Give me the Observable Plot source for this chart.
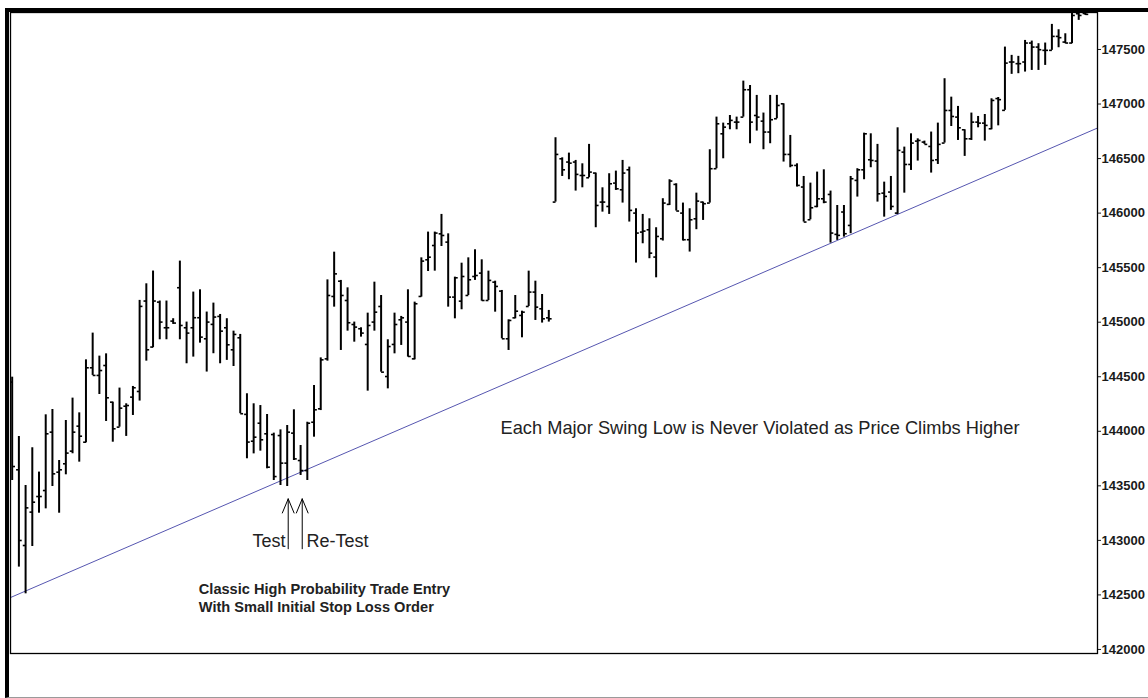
<!DOCTYPE html>
<html>
<head>
<meta charset="utf-8">
<script src="https://cdn.jsdelivr.net/npm/d3@7"></script>
<script src="https://cdn.jsdelivr.net/npm/@observablehq/plot@0.6"></script>
<style>
  html, body { margin: 0; padding: 0; background: #fff; }
  #wrap { position: absolute; left: 5px; top: 8px; border-left: 4px solid #000; border-top: 4px solid #000; border-bottom: 1px solid #9a9a9a; width: 1139px; height: 685px; }
  #wrap svg { display: block; }
</style>
</head>
<body>
<div id="wrap"></div>
<script>
// OHLC values, one entry per bar (bar index = position in the arrays)
const opens = [
  144451,143647,142953,143259,143402,143457,143992,143625,143702,143818,144047,143900,144582,144512,144603,144267,144038,144230,144313,
  144365,145194,144772,145184,144949,145010,145316,144949,144949,145041,144848,144980,145053,144949,144747,144857,144155,
  143909,144074,143977,143970,143961,143708,143983,143732,143640,144083,144206,144664,145236,
  145376,145199,144979,144940,144796,145001,145144,144502,144796,145022,145001,144664,145236,145572,145703,145810,145734,
  145230,145193,145245,145419,145450,145199,145367,145285,144848,145040,145062,145144,145276,145123,145040,
  146101,146498,146468,146468,146345,146324,146367,146101,146061,146275,146214,146397,146000,145826,145847,145597,145765,146080,146263,146000,145756,145948,
  146101,146092,146407,146727,146819,146834,146880,147131,146895,146843,146743,146865,147002,146538,146437,146239,145939,146061,146131,146171,145805,146010,145887,
  146300,146397,146489,146477,146183,146193,146000,146559,146446,146660,146651,146611,146489,146642,146941,146880,146764,146681,146834,146825,146773,147050,
  146942,147385,147370,147385,147559,147522,147492,147492,147620,147568,147559,147828,147830
];
const highs = [
  144496,143952,143503,143849,143626,144151,144200,143732,144099,144304,144169,144655,144900,144689,144710,144267,144396,144252,144411,
  145200,145352,145469,145194,145194,145032,145560,145001,145276,145297,145093,145175,145071,145032,144918,144888,144344,
  144252,144236,144154,143983,144013,144053,144197,143870,144083,144420,144673,145388,145642,
  145383,145315,145001,144949,145083,145367,145245,144839,145083,145053,145297,145184,145590,145826,145826,145988,145810,
  145413,145541,145590,145664,145572,145468,145376,145291,145022,145245,145101,145468,145376,145254,145108,
  146691,146507,146550,146483,146452,146630,146367,146232,146361,146385,146483,146422,146040,145988,145948,145866,146132,146306,146269,146092,146040,146183,
  146101,146581,146880,146825,146895,146880,147210,147170,147079,146917,147079,147079,147002,146712,146452,146336,146275,146376,146397,146202,146070,146070,146336,
  146407,146733,146727,146630,146284,146336,146782,146605,146727,146681,146660,146743,146825,147232,147063,146978,146764,146917,146886,146904,147048,147060,
  147522,147446,147437,147583,147577,147553,147559,147730,147681,147644,147900,147900,147900
];
const lows = [
  143549,142755,142510,142944,143249,143289,143494,143249,143601,143794,143717,143894,144512,144337,144090,143900,144038,143953,144145,
  144277,144643,144766,144839,144839,144980,144839,144619,144680,144808,144543,144711,144619,144650,144594,144161,143748,
  143793,143818,143656,143549,143503,143494,143732,143595,143549,143946,144190,144643,145138,
  144741,144918,144817,144863,144368,144918,144542,144389,144710,144787,144680,144655,145230,145465,145468,145694,145138,
  145031,145114,145245,145383,145193,145199,145092,144848,144741,145031,144857,145144,145016,144992,145001,
  146101,146336,146306,146202,146232,146324,145866,146009,145988,146208,146092,145918,145542,145719,145582,145407,145744,146070,146019,145744,145643,145848,
  145933,146092,146407,146498,146764,146764,146880,146636,146752,146581,146636,146865,146468,146416,146239,145918,145939,146049,146086,145725,145750,145780,145811,
  146147,146306,146416,146101,145963,146025,145988,146183,146391,146477,146630,146367,146446,146642,146794,146666,146520,146666,146782,146660,146764,146800,
  146942,147272,147278,147293,147308,147308,147354,147492,147516,147553,147553,147767,147812
];
const closes = [
  143677,142999,143298,143350,143402,143977,143610,143647,143800,143992,143955,144582,144512,144557,144307,144023,144212,144236,144399,
  145145,144747,145194,145001,144949,144992,144970,144900,145041,144863,145001,145047,144918,144793,144888,144161,143901,
  143946,143922,143671,143585,143708,143992,143747,143640,144074,144197,144655,145245,145443,
  145245,144995,144955,144900,144970,145092,144542,144777,144979,145040,144686,145169,145560,145596,145817,145795,145230,
  145407,145419,145389,145428,145199,145383,145328,144848,145016,145101,145092,145276,145138,145031,145031,
  146538,146397,146458,146355,146345,146376,146070,146101,146269,146223,146367,146025,145817,145835,145633,145786,146092,146294,146019,145756,145939,146110,
  146086,146407,146819,146788,146850,146834,147131,146834,146880,146743,146856,146987,146538,146437,146254,145918,146049,146131,146101,145817,145796,145811,146315,
  146397,146727,146483,146177,146153,146061,146575,146446,146642,146666,146630,146483,146630,146941,146886,146782,146681,146834,146825,146804,147033,147040,
  147375,147385,147370,147559,147522,147498,147492,147620,147608,147559,147812,147812,147822
];
const yTicks = [142000,142500,143000,143500,144000,144500,145000,145500,146000,146500,147000,147500];
const trendLine = [{i: -0.25, v: 142476}, {i: 161.8, v: 146780}];
const swingNote = [{i: 72.8, v: 144029, text: "Each Major Swing Low is Never Violated as Price Climbs Higher"}];
const testNote = [{i: 40.75, v: 142990, text: "Test"}];
const retestNote = [{i: 43.88, v: 142990, text: "Re-Test"}];
const entryNotes = [{i: 27.82, v: 142550, text: "Classic High Probability Trade Entry"}, {i: 27.82, v: 142388, text: "With Small Initial Stop Loss Order"}];
const arrows = [{i: 41.15, from: 142923, to: 143381}, {i: 43.24, from: 142923, to: 143381}];

const bars = opens.map((o, i) => ({i, open: o, high: highs[i], low: lows[i], close: closes[i]}));

const chart = Plot.plot({
  width: 1139,
  height: 685,
  marginLeft: 1,
  marginRight: 51,
  marginTop: 0,
  marginBottom: 44,
  style: {fontFamily: "'Liberation Sans', Arial, sans-serif", background: "#fff", overflow: "visible"},
  x: {type: "linear", domain: [-0.25, 161.8], axis: null},
  y: {type: "linear", domain: [141963, 147839], axis: null},
  marks: [
    Plot.line(trendLine, {x: "i", y: "v", stroke: "#5656b0", strokeWidth: 1}),
    Plot.ruleX(bars, {x: "i", y1: "low", y2: "high", stroke: "#000", strokeWidth: 2, clip: true}),
    Plot.link(bars, {x1: d => d.i - 0.42, x2: "i", y1: "open", y2: "open", stroke: "#000", strokeWidth: 1.6, clip: true}),
    Plot.link(bars, {x1: "i", x2: d => d.i + 0.42, y1: "close", y2: "close", stroke: "#000", strokeWidth: 1.6, clip: true}),
    Plot.arrow(arrows, {x1: "i", x2: "i", y1: "from", y2: "to", stroke: "#000", strokeWidth: 1, headAngle: 45, headLength: 23}),
    Plot.text(swingNote, {x: "i", y: "v", text: "text", textAnchor: "start", fontSize: 18.25, fill: "#222"}),
    Plot.text(testNote, {x: "i", y: "v", text: "text", textAnchor: "end", fontSize: 18, fill: "#222"}),
    Plot.text(retestNote, {x: "i", y: "v", text: "text", textAnchor: "start", fontSize: 18, fill: "#222"}),
    Plot.text(entryNotes, {x: "i", y: "v", text: "text", textAnchor: "start", fontSize: 14.6, fontWeight: "bold", fill: "#222"}),
    Plot.frame({stroke: "#000", strokeWidth: 1.3}),
    Plot.axisY({anchor: "right", ticks: yTicks, tickFormat: d => String(d), tickSize: 3, tickPadding: 1, fontSize: 13, fontWeight: "bold", color: "#1a1a1a", label: null})
  ]
});
document.getElementById("wrap").appendChild(chart);
</script>
</body>
</html>
